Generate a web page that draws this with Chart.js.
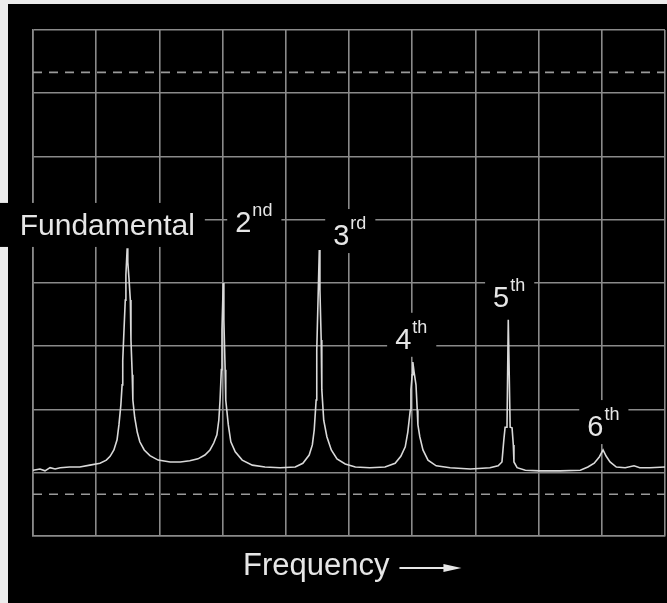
<!DOCTYPE html>
<html>
<head>
<meta charset="utf-8">
<script src="https://cdn.jsdelivr.net/npm/chart.js@4/dist/chart.umd.min.js"></script>
<style>
  html, body { margin: 0; padding: 0; background: #000; }
  #wrap { width: 667px; height: 603px; }
</style>
</head>
<body>
<div id="wrap"><canvas id="spectrum" width="667" height="603"></canvas></div>
<script>
// ====== Data (đơn vị: ô lưới) ======
const freqs  = [0.00, 0.11, 0.19, 0.27, 0.35, 0.43, 0.58, 0.74, 0.90, 1.06, 1.16, 1.22, 1.28, 1.33, 1.36, 1.39, 1.41, 1.42, 1.44, 1.46,
                1.47, 1.49, 1.50, 1.52, 1.54, 1.55, 1.57, 1.58, 1.61, 1.65, 1.69, 1.76, 1.85, 1.98, 2.17, 2.33, 2.48, 2.61, 2.72, 2.80,
                2.86, 2.91, 2.94, 2.96, 2.98, 2.99, 3.01, 3.02, 3.04, 3.05, 3.09, 3.13, 3.20, 3.31, 3.47, 3.67, 3.91, 4.15, 4.27, 4.37,
                4.42, 4.45, 4.48, 4.49, 4.51, 4.53, 4.54, 4.56, 4.57, 4.60, 4.65, 4.72, 4.81, 4.94, 5.10, 5.33, 5.57, 5.73, 5.82, 5.89,
                5.93, 5.97, 5.98, 6.00, 6.01, 6.03, 6.06, 6.08, 6.09, 6.12, 6.17, 6.25, 6.38, 6.60, 6.92, 7.23, 7.36, 7.42, 7.45, 7.47,
                7.50, 7.52, 7.53, 7.55, 7.58, 7.60, 7.61, 7.66, 7.79, 8.02, 8.34, 8.66, 8.78, 8.88, 8.96, 9.02, 9.07, 9.13, 9.23, 9.37,
                9.51, 9.60, 9.76, 10.00];
const levels = [1.04, 1.06, 1.03, 1.08, 1.06, 1.08, 1.09, 1.09, 1.12, 1.15, 1.20, 1.26, 1.36, 1.52, 1.76, 2.07, 2.39, 2.78, 3.26, 3.73,
                4.13, 4.55, 4.33, 4.05, 3.73, 3.10, 2.55, 2.15, 1.87, 1.64, 1.49, 1.36, 1.27, 1.20, 1.17, 1.17, 1.19, 1.22, 1.28, 1.36,
                1.47, 1.60, 1.83, 2.15, 2.63, 3.26, 4.00, 3.41, 2.63, 2.15, 1.76, 1.49, 1.33, 1.20, 1.12, 1.09, 1.08, 1.09, 1.15, 1.28,
                1.44, 1.68, 2.15, 2.94, 3.73, 4.52, 3.89, 3.10, 2.31, 1.83, 1.57, 1.36, 1.22, 1.14, 1.09, 1.08, 1.09, 1.15, 1.26, 1.41,
                1.64, 1.99, 2.31, 2.55, 2.75, 2.59, 2.39, 1.99, 1.76, 1.57, 1.36, 1.20, 1.11, 1.08, 1.06, 1.08, 1.11, 1.17, 1.52, 1.72,
                1.72, 3.42, 3.42, 1.72, 1.71, 1.44, 1.17, 1.08, 1.04, 1.03, 1.03, 1.04, 1.09, 1.15, 1.25, 1.36, 1.26, 1.17, 1.09, 1.08,
                1.11, 1.08, 1.08, 1.09];
const refLevels = [7.33, 0.66];   // 2 đường nét đứt
const xDivisions = 10;
const yDivisions = 8;

// nhãn hài: số, chỉ số trên, vị trí (đơn vị ô lưới, chân chữ)
const harmonicText = ["Fundamental", "2", "3", "4", "5", "6"];
const harmonicSup  = ["", "nd", "rd", "th", "th", "th"];
const labelX = [-0.21, 3.20, 4.75, 5.73, 7.28, 8.77];
const labelY = [4.76, 4.81, 4.60, 2.96, 3.62, 1.58];

// ====== Plugin nền + nhãn ======
const screenPlugin = {
  id: "screen",
  beforeDraw(chart) {
    const c = chart.ctx;
    c.save();
    c.fillStyle = "#000";
    c.fillRect(0, 0, chart.width, chart.height);
    c.fillStyle = "#ececec";
    c.fillRect(0, 0, chart.width, 4);
    c.fillRect(0, 0, 8, chart.height);
    c.restore();
  },
  afterDraw(chart) {
    const c = chart.ctx;
    const xs = chart.scales.x, ys = chart.scales.y;
    c.save();
    c.textBaseline = "alphabetic";
    harmonicText.forEach((t, i) => {
      const px = xs.getPixelForValue(labelX[i]);
      const py = ys.getPixelForValue(labelY[i]);
      if (i === 0) {
        c.font = "30px 'Liberation Sans', Arial, sans-serif";
        const w = c.measureText(t).width;
        c.fillStyle = "#000";
        c.fillRect(0, py - 32, px + w + 10, 44);
        c.fillStyle = "#e6e6e6";
        c.fillText(t, px, py);
        return;
      }
      c.font = "29px 'Liberation Sans', Arial, sans-serif";
      const w = c.measureText(t).width;
      c.font = "18px 'Liberation Sans', Arial, sans-serif";
      const ws = c.measureText(harmonicSup[i]).width;
      c.fillStyle = "#000";
      c.fillRect(px - 8, py - 36, w + ws + 18, 44);
      c.fillStyle = "#e6e6e6";
      c.font = "29px 'Liberation Sans', Arial, sans-serif";
      c.fillText(t, px, py);
      c.font = "18px 'Liberation Sans', Arial, sans-serif";
      c.fillText(harmonicSup[i], px + w + 1, py - 16);
    });

    // Frequency ---->
    const a = chart.chartArea;
    const fx = a.left + 210, fy = a.bottom + 39;
    c.font = "31px 'Liberation Sans', Arial, sans-serif";
    c.fillStyle = "#e6e6e6";
    c.fillText("Frequency", fx, fy);
    const ax = fx + c.measureText("Frequency").width + 10, ay = fy - 7;
    c.strokeStyle = "#e6e6e6";
    c.lineWidth = 2;
    c.beginPath();
    c.moveTo(ax, ay);
    c.lineTo(ax + 50, ay);
    c.stroke();
    c.beginPath();
    c.moveTo(ax + 44, ay - 4);
    c.lineTo(ax + 62, ay);
    c.lineTo(ax + 44, ay + 4);
    c.closePath();
    c.fill();
    c.restore();
  }
};

// ====== Biểu đồ ======
const gridStyle = { color: "#8a8a8a", lineWidth: 1.6, drawTicks: false };
const ctx = document.getElementById("spectrum").getContext("2d");
new Chart(ctx, {
  type: "scatter",
  data: {
    datasets: [
      {
        label: "trace",
        data: freqs.map((f, i) => ({ x: f, y: levels[i] })),
        showLine: true,
        borderColor: "#d9d9d9",
        borderWidth: 1.6,
        pointRadius: 0,
        tension: 0
      },
      ...refLevels.map(v => ({
        label: "ref",
        data: [{ x: 0, y: v }, { x: xDivisions, y: v }],
        showLine: true,
        borderColor: "#9a9a9a",
        borderWidth: 1.6,
        borderDash: [9, 7],
        pointRadius: 0
      }))
    ]
  },
  options: {
    responsive: false,
    animation: false,
    devicePixelRatio: 1,
    layout: { padding: { left: 33, top: 30, right: 2, bottom: 67 } },
    plugins: { legend: { display: false }, tooltip: { enabled: false } },
    scales: {
      x: {
        type: "linear", min: 0, max: xDivisions,
        ticks: { display: false, stepSize: 1 },
        grid: gridStyle,
        border: { display: true, color: "#8a8a8a", width: 1.6 }
      },
      y: {
        type: "linear", min: 0, max: yDivisions,
        ticks: { display: false, stepSize: 1 },
        grid: gridStyle,
        border: { display: true, color: "#8a8a8a", width: 1.6 }
      }
    }
  },
  plugins: [screenPlugin]
});
</script>
</body>
</html>
